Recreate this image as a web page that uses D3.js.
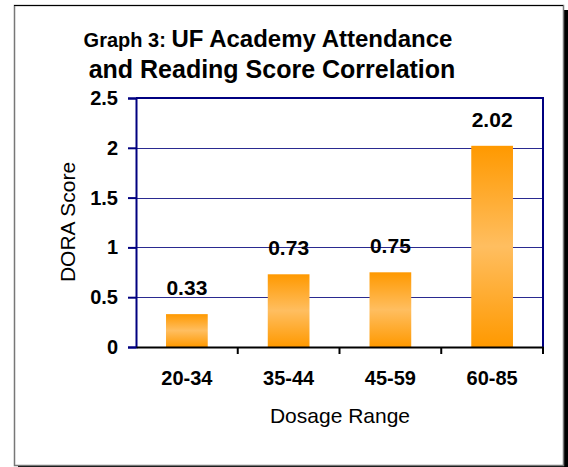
<!DOCTYPE html>
<html>
<head>
<meta charset="utf-8">
<script src="https://cdn.jsdelivr.net/npm/d3@7"></script>
<style>
  body { margin: 0; background: #fff; }
  text { font-family: "Liberation Sans", Arial, sans-serif; }
</style>
</head>
<body>
<div id="chart"></div>
<script>
var categories = ['20-34', '35-44', '45-59', '60-85'];
var scores = [0.33, 0.73, 0.75, 2.02];
var yTicks = [0, 0.5, 1, 1.5, 2, 2.5];

var width = 568, height = 467;
var margin = {top: 98, right: 25, bottom: 120, left: 136};

var svg = d3.select('#chart').append('svg')
    .attr('width', width)
    .attr('height', height);

// frame with shadow
svg.append('rect').attr('x', 18).attr('y', 10).attr('width', 550).attr('height', 457).attr('fill', '#000');
svg.append('rect').attr('x', 14.5).attr('y', 5.5).attr('width', 549).attr('height', 460)
    .attr('fill', '#fff').attr('stroke', '#777').attr('stroke-width', 1.5);
svg.append('line').attr('x1', 14).attr('x2', 563).attr('y1', 5.5).attr('y2', 5.5).attr('stroke', '#000');

var defs = svg.append('defs');
var grad = defs.append('linearGradient').attr('id', 'barGrad')
    .attr('x1', 0).attr('x2', 0).attr('y1', 0).attr('y2', 1);
grad.append('stop').attr('offset', '0%').attr('stop-color', '#ff9900');
grad.append('stop').attr('offset', '50%').attr('stop-color', '#ffbe60');
grad.append('stop').attr('offset', '100%').attr('stop-color', '#ff9900');

var x = d3.scaleBand()
    .domain(categories)
    .range([margin.left, 543])
    .paddingInner(0.59)
    .paddingOuter(0.295);

var y = d3.scaleLinear()
    .domain([0, 2.5])
    .range([347, margin.top]);

// gridlines
svg.append('g').selectAll('line')
    .data(yTicks.filter(function(d) { return d > 0; }))
    .enter().append('line')
    .attr('x1', margin.left).attr('x2', 543)
    .attr('y1', function(d) { return Math.round(y(d)) + 0.5; })
    .attr('y2', function(d) { return Math.round(y(d)) + 0.5; })
    .attr('stroke', '#2a2a90')
    .attr('stroke-width', 1);

// plot border top/right
svg.append('path')
    .attr('d', 'M' + margin.left + ',' + y(2.5) + 'H543V347')
    .attr('fill', 'none').attr('stroke', '#000080').attr('stroke-width', 2);

// bars
svg.append('g').selectAll('rect')
    .data(scores)
    .enter().append('rect')
    .attr('x', function(d, i) { return x(categories[i]); })
    .attr('y', function(d) { return y(d); })
    .attr('width', x.bandwidth())
    .attr('height', function(d) { return y(0) - y(d); })
    .attr('fill', 'url(#barGrad)');

// value labels
svg.append('g').selectAll('text')
    .data(scores)
    .enter().append('text')
    .attr('x', function(d, i) { return x(categories[i]) + x.bandwidth() / 2; })
    .attr('y', function(d) { return y(d) - 19; })
    .attr('text-anchor', 'middle')
    .attr('font-size', 21)
    .attr('font-weight', 'bold')
    .text(function(d) { return d.toFixed(2); });

// y axis
var yAxis = svg.append('g')
    .attr('transform', 'translate(' + margin.left + ',0)')
    .call(d3.axisLeft(y).tickValues(yTicks).tickSize(8).tickPadding(10)
        .tickFormat(function(d) { return d; }));
yAxis.select('.domain').attr('stroke', '#000080').attr('stroke-width', 2);
yAxis.selectAll('.tick line').attr('stroke', '#000080').attr('stroke-width', 2);
yAxis.selectAll('.tick text')
    .attr('font-size', 20).attr('font-weight', 'bold').attr('fill', '#000')
    .attr('font-family', '"Liberation Sans", Arial, sans-serif');

// x axis
var xAxis = svg.append('g')
    .attr('transform', 'translate(0,347)')
    .call(d3.axisBottom(x).tickSize(0).tickPadding(24));
xAxis.select('.domain').attr('stroke', '#000').attr('stroke-width', 2);
xAxis.selectAll('.tick text')
    .attr('font-size', 20).attr('font-weight', 'bold').attr('fill', '#000')
    .attr('font-family', '"Liberation Sans", Arial, sans-serif');

// category separator ticks
var step = x.step();
svg.append('g').selectAll('line')
    .data(categories)
    .enter().append('line')
    .attr('x1', function(d) { return x(d) - x.paddingOuter() * step + step; })
    .attr('x2', function(d) { return x(d) - x.paddingOuter() * step + step; })
    .attr('y1', 347).attr('y2', 354)
    .attr('stroke', '#000').attr('stroke-width', 2);

// axis titles
svg.append('text')
    .attr('transform', 'translate(75,222) rotate(-90)')
    .attr('text-anchor', 'middle')
    .attr('font-size', 21)
    .text('DORA Score');

svg.append('text')
    .attr('x', 340).attr('y', 423)
    .attr('text-anchor', 'middle')
    .attr('font-size', 21)
    .text('Dosage Range');

// title
var title = svg.append('text')
    .attr('x', 268).attr('y', 47)
    .attr('text-anchor', 'middle')
    .attr('font-weight', 'bold');
title.append('tspan').attr('font-size', 20).text('Graph 3: ');
title.append('tspan').attr('font-size', 24).text('UF Academy Attendance');

svg.append('text')
    .attr('x', 272).attr('y', 78)
    .attr('text-anchor', 'middle')
    .attr('font-weight', 'bold')
    .attr('font-size', 25)
    .text('and Reading Score Correlation');
</script>
</body>
</html>
